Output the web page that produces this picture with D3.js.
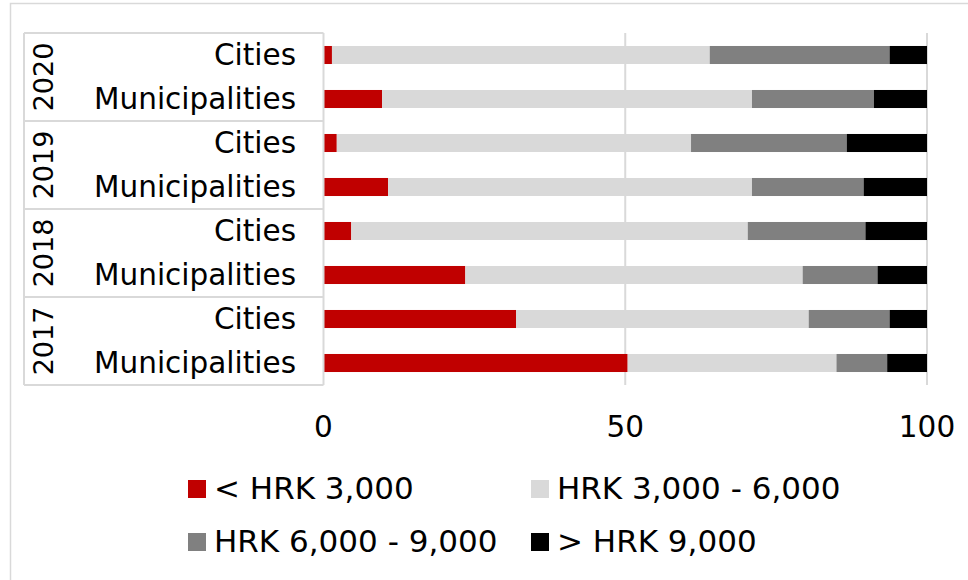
<!DOCTYPE html>
<html>
<head>
<meta charset="utf-8">
<script src="https://cdnjs.cloudflare.com/ajax/libs/d3/7.8.5/d3.min.js"></script>
<style>
  body { margin: 0; background: #fff; }
  text { font-family: "DejaVu Sans", sans-serif; fill: #000; }
</style>
</head>
<body>
<div id="chart"></div>
<script>
// Chart data (shares in %), rows go top to bottom
var years = ["2020", "2019", "2018", "2017"];
var types = ["Cities", "Municipalities"];
var seriesNames = ["< HRK 3,000", "HRK 3,000 - 6,000", "HRK 6,000 - 9,000", "> HRK 9,000"];
var seriesColors = ["#C00000", "#D9D9D9", "#808080", "#000000"];

// order: 2020 Cities, 2020 Mun., 2019 Cities, 2019 Mun., ... 2017 Mun.
var under3000 = [1.4, 9.7, 2.2, 10.7, 4.6, 23.5, 31.9, 50.4];
var from3to6  = [62.6, 61.3, 58.7, 60.3, 65.7, 55.9, 48.5, 34.6];
var from6to9  = [29.8, 20.2, 25.8, 18.5, 19.5, 12.4, 13.4, 8.4];
var over9000  = [6.2, 8.8, 13.3, 10.5, 10.2, 8.2, 6.2, 6.6];
var xTicks = [0, 50, 100];

// Build rows for the stack
var rows = [];
years.forEach(function(yr, i) {
    types.forEach(function(t, j) {
        var k = i * types.length + j;
        rows.push({
            key: yr + "|" + t, year: yr, type: t,
            s0: under3000[k], s1: from3to6[k], s2: from6to9[k], s3: over9000[k]
        });
    });
});

var width = 968, height = 580;
var fontSize = 29.5;
var gridColor = "#D9D9D9";

var svg = d3.select("#chart")
    .append("svg")
        .attr("width", width)
        .attr("height", height);

// outer frame
svg.append("rect")
    .attr("x", 10.5).attr("y", 3.5)
    .attr("width", 1000).attr("height", 1000)
    .attr("fill", "none")
    .attr("stroke", gridColor)
    .attr("stroke-width", 1.5);

var x = d3.scaleLinear()
    .domain([0, 100])
    .range([323.5, 927]);

var y = d3.scaleBand()
    .domain(rows.map(function(d) { return d.key; }))
    .range([33, 385])
    .paddingInner(0.59)
    .paddingOuter(0.295);

// vertical gridlines
svg.append("g")
    .selectAll("line")
    .data(xTicks.filter(function(t) { return t > 0; }))
    .enter()
    .append("line")
    .attr("x1", function(d) { return x(d); })
    .attr("x2", function(d) { return x(d); })
    .attr("y1", 33).attr("y2", 385)
    .attr("stroke", gridColor)
    .attr("stroke-width", 2);

// stacked bars
var stack = d3.stack().keys(["s0", "s1", "s2", "s3"]);
var layers = stack(rows);

svg.append("g")
    .selectAll("g")
    .data(layers)
    .enter()
    .append("g")
    .attr("fill", function(d, i) { return seriesColors[i]; })
    .selectAll("rect")
    .data(function(d) { return d; })
    .enter()
    .append("rect")
    .attr("x", function(d) { return x(d[0]); })
    .attr("width", function(d) { return x(d[1]) - x(d[0]); })
    .attr("y", function(d) { return y(d.data.key); })
    .attr("height", y.bandwidth());

// value axis line (left)
svg.append("line")
    .attr("x1", x(0)).attr("x2", x(0))
    .attr("y1", 33).attr("y2", 385)
    .attr("stroke", gridColor)
    .attr("stroke-width", 2);

// multi-level category axis: separators
var groupH = y.step() * types.length;
var seps = d3.range(years.length + 1).map(function(i) { return 33 + i * groupH; });

svg.append("g")
    .selectAll("line")
    .data(seps)
    .enter()
    .append("line")
    .attr("x1", 24).attr("x2", x(0))
    .attr("y1", function(d) { return d; })
    .attr("y2", function(d) { return d; })
    .attr("stroke", gridColor)
    .attr("stroke-width", 2);

svg.append("line")
    .attr("x1", 24).attr("x2", 24)
    .attr("y1", 33).attr("y2", 385)
    .attr("stroke", gridColor)
    .attr("stroke-width", 2);

// row labels
svg.append("g")
    .selectAll("text")
    .data(rows)
    .enter()
    .append("text")
    .attr("x", 296)
    .attr("y", function(d) { return y(d.key) + y.bandwidth() / 2; })
    .attr("dy", "0.35em")
    .attr("text-anchor", "end")
    .style("font-size", fontSize + "px")
    .text(function(d) { return d.type; });

// year labels (rotated)
svg.append("g")
    .selectAll("text")
    .data(years)
    .enter()
    .append("text")
    .attr("transform", function(d, i) {
        return "translate(44," + (33 + (i + 0.5) * groupH) + ") rotate(-90)";
    })
    .attr("dy", "0.35em")
    .attr("text-anchor", "middle")
    .style("font-size", "27px")
    .text(function(d) { return d; });

// x tick labels
svg.append("g")
    .selectAll("text")
    .data(xTicks)
    .enter()
    .append("text")
    .attr("x", function(d) { return x(d); })
    .attr("y", 437)
    .attr("text-anchor", "middle")
    .style("font-size", fontSize + "px")
    .text(function(d) { return d; });

// legend, 2 x 2
var legendX = [188, 531],
    legendY = [499, 552];

var legend = svg.append("g")
    .selectAll("g")
    .data(seriesNames)
    .enter()
    .append("g")
    .attr("transform", function(d, i) {
        return "translate(" + legendX[i % 2] + "," + legendY[Math.floor(i / 2)] + ")";
    });

legend.append("rect")
    .attr("x", 0).attr("y", -19)
    .attr("width", 18).attr("height", 18)
    .attr("fill", function(d, i) { return seriesColors[i]; });

legend.append("text")
    .attr("x", 26)
    .attr("y", 0)
    .style("font-size", "31px")
    .text(function(d) { return d; });
</script>
</body>
</html>
